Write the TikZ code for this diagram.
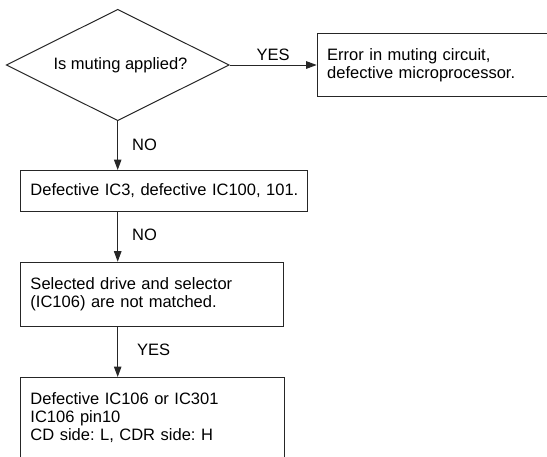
\documentclass[tikz,border=0pt]{standalone}
\usepackage{fontspec}
\setmainfont{Liberation Sans}
\frenchspacing
\usetikzlibrary{shapes.geometric,arrows.meta,calc}
\begin{document}
\begin{tikzpicture}[x=1pt,y=-1pt,
  every node/.style={font=\fontsize{16.5}{18}\selectfont},
  ln/.style={line width=1pt, draw=black!85},
  boxnode/.style={ln, rectangle, inner xsep=10pt, inner ysep=0pt, align=left, anchor=north west},
  decision/.style={ln, diamond, aspect=2, minimum width=223pt, minimum height=111.4pt, inner sep=0pt},
  arr/.style={ln, -{Triangle[length=10.5pt,width=7.5pt]}},
  lbl/.style={anchor=base west, inner sep=0pt, draw=none},
  lblup/.style={anchor=base, inner sep=0pt, draw=none}]
\useasboundingbox (0,0) rectangle (547,456);
\clip (0,0) rectangle (547,456);
\node[decision] (q) at (117.7,65) {\hspace*{5.6pt}Is muting applied?};
\node[boxnode, text width=225pt, minimum height=62.4pt] (err) at (316.7,33.3) {Error in muting circuit,\\defective microprocessor.};
\node[boxnode, text width=266.7pt, minimum height=40.5pt] (b2) at (20,170) {\mbox{Defective IC3, defective IC100, 101.}};
\node[boxnode, text width=243.3pt, minimum height=64pt] (b3) at (20,261.7) {Selected drive and selector\\(IC106) are not matched.};
\node[boxnode, text width=244pt, minimum height=81pt] (b4) at (20,377) {Defective IC106 or IC301\\IC106 pin10\\CD side: L, CDR side: H};
\draw[arr] (q.east) -- node[lblup, yshift=5pt] {YES} (q.east -| err.west);
\draw[arr] (q.south) -- node[lbl, xshift=14pt, yshift=-4.6pt] {NO} (q.south |- b2.north);
\draw[arr] (b2.south -| q.south) -- node[lbl, xshift=14pt, yshift=-4pt] {NO} (b3.north -| q.south);
\draw[arr] (b3.south -| q.south) -- node[lbl, xshift=19pt, yshift=-3.7pt] {YES} (b4.north -| q.south);
\end{tikzpicture}
\end{document}
